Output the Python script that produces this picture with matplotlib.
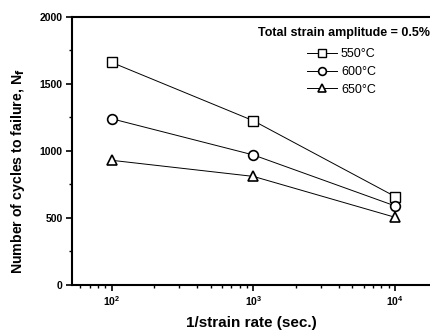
import matplotlib.pyplot as plt
from matplotlib.ticker import LogLocator, NullFormatter, MultipleLocator

plt.rcParams['font.family'] = ['Liberation Sans', 'DejaVu Sans']

# Donnees
inv_strain_rate = [1e2, 1e3, 1e4]
nf_550 = [1660, 1225, 660]
nf_600 = [1240, 970, 590]
nf_650 = [930, 810, 505]
series_labels = ['550\u00b0C', '600\u00b0C', '650\u00b0C']
legend_title = 'Total strain amplitude = 0.5%'

fig = plt.figure(figsize=(4.30, 3.31), dpi=100)
ax = fig.add_axes([0.167, 0.139, 0.833, 0.810])

ax.plot(inv_strain_rate, nf_550, color='black', lw=0.7, marker='s', ms=6.5,
        mfc='white', mec='black', mew=1.0, label=series_labels[0])
ax.plot(inv_strain_rate, nf_600, color='black', lw=0.7, marker='o', ms=7,
        mfc='white', mec='black', mew=1.2, label=series_labels[1])
ax.plot(inv_strain_rate, nf_650, color='black', lw=0.7, marker='^', ms=7,
        mfc='white', mec='black', mew=1.2, label=series_labels[2])

ax.set_xscale('log')
ax.set_xlim(52.2, 17660)
ax.set_ylim(0, 2000)

ax.xaxis.set_major_locator(LogLocator(base=10, numticks=10))
ax.xaxis.set_minor_locator(LogLocator(base=10, subs=range(2, 10), numticks=20))
ax.xaxis.set_minor_formatter(NullFormatter())
ax.yaxis.set_major_locator(MultipleLocator(500))
ax.yaxis.set_minor_locator(MultipleLocator(250))

for s in ['left', 'bottom', 'top']:
    ax.spines[s].set_linewidth(1.5)
ax.spines['right'].set_visible(False)

ax.tick_params(axis='both', which='major', direction='out', length=4.5, width=1.2,
               labelsize=7.5, pad=2)
ax.tick_params(axis='both', which='minor', direction='out', length=2.5, width=1.0)
for lab in ax.get_xticklabels() + ax.get_yticklabels():
    lab.set_fontweight('bold')

ax.set_xlabel('1/strain rate (sec.)', fontsize=11, fontweight='bold', labelpad=6)
ax.set_ylabel('Number of cycles to failure, N$_\\mathbf{f}$', fontsize=10.2,
              fontweight='bold')
ax.yaxis.set_label_coords(-0.125, 0.425)

fig.text(0.999, 0.900, legend_title, ha='right', va='center', fontsize=9,
         fontweight='bold')
ax.legend(loc='upper left', bbox_to_anchor=(0.700, 0.873), bbox_transform=fig.transFigure,
          frameon=False, fontsize=9, handlelength=2.4, handletextpad=0.3,
          labelspacing=0.45, borderpad=0, markerscale=0.8)

fig.savefig('out.png', dpi=100)
